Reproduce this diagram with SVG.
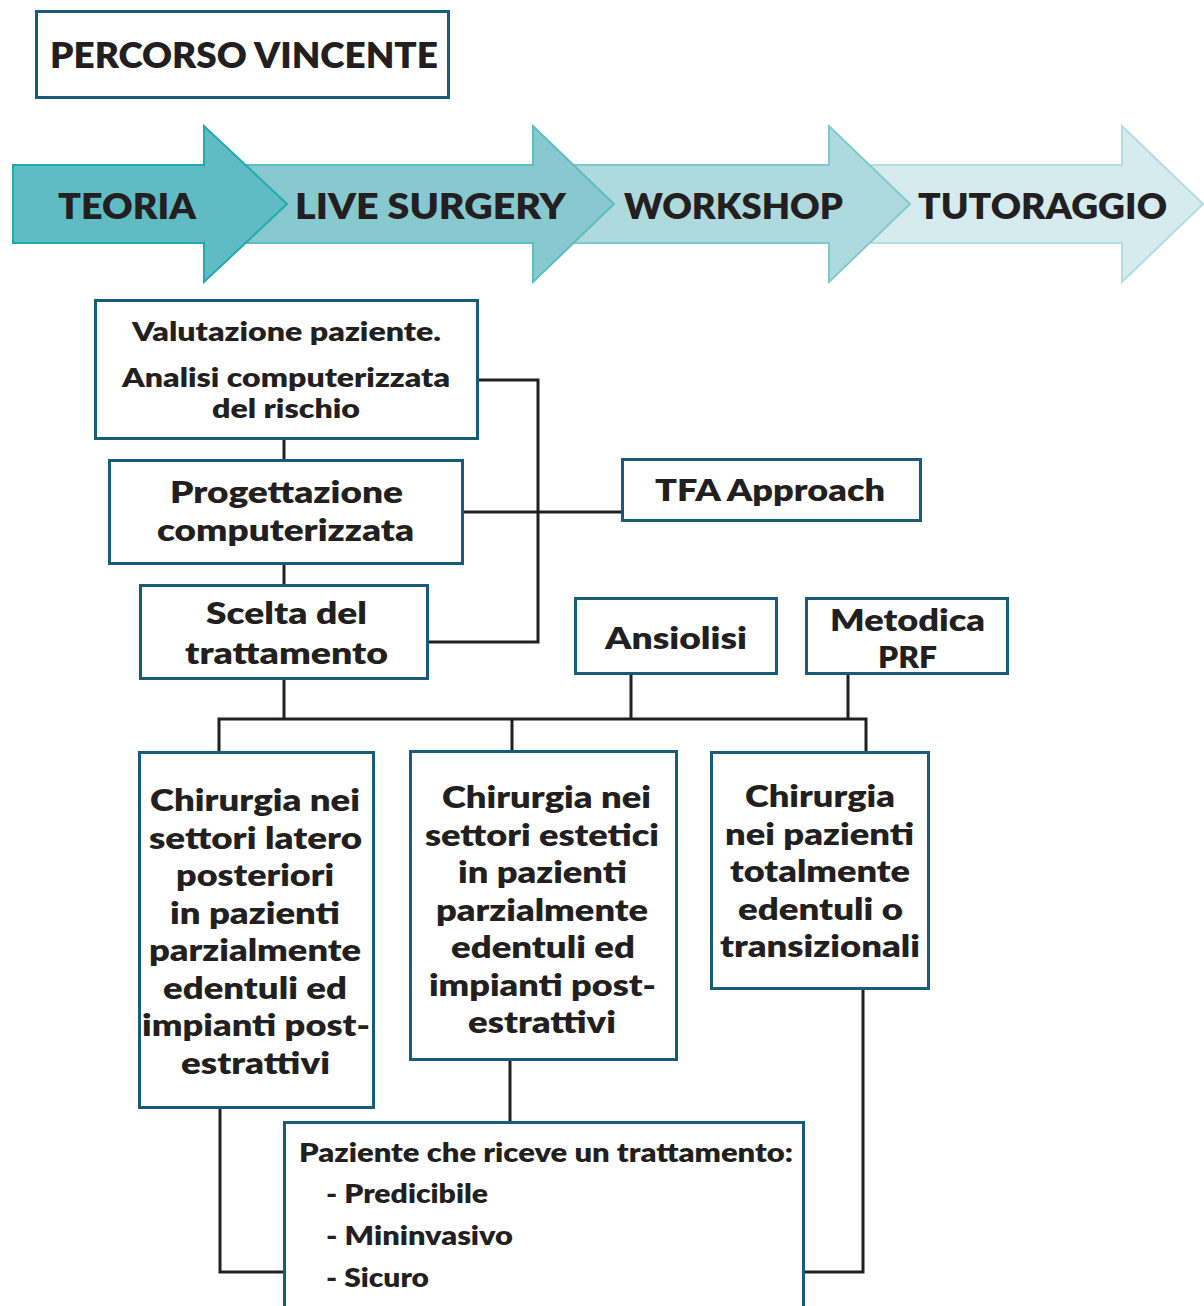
<svg xmlns="http://www.w3.org/2000/svg" width="1204" height="1306" viewBox="0 0 1204 1306">
<style>
.bx{fill:#fff;stroke:#185c78;stroke-width:3}
.t{font-family:Lato,"Open Sans","DejaVu Sans",sans-serif;font-weight:800;fill:#231f20}
.c{fill:none;stroke:#231f20;stroke-width:3}
</style>
<rect width="1204" height="1306" fill="#fff"/>
<g id="title">
<rect class="bx" x="36.500" y="11.500" width="412" height="86"/>
<text class="t" x="50" y="68" font-size="35" textLength="388" lengthAdjust="spacingAndGlyphs">PERCORSO VINCENTE</text>
</g>
<g id="arrows">
<g id="arrow-tutoraggio">
<path d="M870 165 L1122 165 L1122 126 L1203 204 L1122 282 L1122 243 L870 243 Z" fill="#d5ebee" stroke="#b0dde1" stroke-width="2"/>
<text class="t" x="918" y="219" font-size="36" textLength="249" lengthAdjust="spacingAndGlyphs">TUTORAGGIO</text>
</g>
<g id="arrow-workshop">
<path d="M570 165 L829 165 L829 126 L910 204 L829 282 L829 243 L570 243 Z" fill="#afdadd" stroke="#80c9ce" stroke-width="2"/>
<text class="t" x="624" y="219" font-size="36" textLength="219" lengthAdjust="spacingAndGlyphs">WORKSHOP</text>
</g>
<g id="arrow-live">
<path d="M245 165 L533 165 L533 126 L614 204 L533 282 L533 243 L245 243 Z" fill="#87c9ce" stroke="#5cbdc3" stroke-width="2"/>
<text class="t" x="295" y="219" font-size="36" textLength="271" lengthAdjust="spacingAndGlyphs">LIVE SURGERY</text>
</g>
<g id="arrow-teoria">
<path d="M13 165 L204 165 L204 126 L287 204 L204 282 L204 243 L13 243 Z" fill="#5ebcc2" stroke="#22aab1" stroke-width="2"/>
<text class="t" x="58" y="219" font-size="36" textLength="138" lengthAdjust="spacingAndGlyphs">TEORIA</text>
</g>
</g>
<g id="connectors">
<path class="c" d="M284 438 V460 M284 564 V585"/>
<path class="c" d="M478 380 H538 V642 H428"/>
<path class="c" d="M463 512 H622"/>
<path class="c" d="M284 679 V719 M219 752 V719 H866 V752 M512 719 V751 M631 674 V719 M848 674 V719"/>
<path class="c" d="M220 1108 V1272 H284 M510 1060 V1122 M863 989 V1272 H804"/>
</g>
<g id="valutazione">
<rect class="bx" x="95.500" y="300.500" width="382" height="138"/>
<text class="t" x="132" y="341" font-size="25.500" textLength="309" lengthAdjust="spacingAndGlyphs">Valutazione paziente.</text>
<text class="t" x="122" y="387" font-size="25.500" textLength="328" lengthAdjust="spacingAndGlyphs">Analisi computerizzata</text>
<text class="t" x="212" y="418" font-size="25.500" textLength="148" lengthAdjust="spacingAndGlyphs">del rischio</text>
</g>
<g id="progettazione">
<rect class="bx" x="109.500" y="460.500" width="353" height="103"/>
<text class="t" x="170" y="503" font-size="31" textLength="233" lengthAdjust="spacingAndGlyphs">Progettazione</text>
<text class="t" x="157" y="541" font-size="31" textLength="257" lengthAdjust="spacingAndGlyphs">computerizzata</text>
</g>
<g id="scelta">
<rect class="bx" x="140.500" y="585.500" width="287" height="93"/>
<text class="t" x="206" y="624" font-size="31" textLength="161" lengthAdjust="spacingAndGlyphs">Scelta del</text>
<text class="t" x="185" y="664" font-size="31" textLength="203" lengthAdjust="spacingAndGlyphs">trattamento</text>
</g>
<g id="tfa">
<rect class="bx" x="622.500" y="459.500" width="298" height="61"/>
<text class="t" x="655" y="501" font-size="31" textLength="230" lengthAdjust="spacingAndGlyphs">TFA Approach</text>
</g>
<g id="ansiolisi">
<rect class="bx" x="575.500" y="598.500" width="201" height="75"/>
<text class="t" x="605" y="649" font-size="31" textLength="142" lengthAdjust="spacingAndGlyphs">Ansiolisi</text>
</g>
<g id="metodica">
<rect class="bx" x="806.500" y="598.500" width="201" height="75"/>
<text class="t" x="830" y="631" font-size="30.500" textLength="155" lengthAdjust="spacingAndGlyphs">Metodica</text>
<text class="t" x="878" y="668" font-size="30.500" textLength="59" lengthAdjust="spacingAndGlyphs">PRF</text>
</g>
<g id="chirurgia-laterali">
<rect class="bx" x="139.500" y="752.500" width="234" height="355"/>
<text class="t" x="150" y="811" font-size="30.500" textLength="210" lengthAdjust="spacingAndGlyphs">Chirurgia nei</text>
<text class="t" x="149" y="848.500" font-size="30.500" textLength="213" lengthAdjust="spacingAndGlyphs">settori latero</text>
<text class="t" x="176" y="886" font-size="30.500" textLength="158" lengthAdjust="spacingAndGlyphs">posteriori</text>
<text class="t" x="170" y="923.500" font-size="30.500" textLength="170" lengthAdjust="spacingAndGlyphs">in pazienti</text>
<text class="t" x="149" y="961" font-size="30.500" textLength="212" lengthAdjust="spacingAndGlyphs">parzialmente</text>
<text class="t" x="163" y="998.500" font-size="30.500" textLength="184" lengthAdjust="spacingAndGlyphs">edentuli ed</text>
<text class="t" x="142" y="1036" font-size="30.500" textLength="228" lengthAdjust="spacingAndGlyphs">impianti post-</text>
<text class="t" x="181" y="1073.500" font-size="30.500" textLength="149" lengthAdjust="spacingAndGlyphs">estrattivi</text>
</g>
<g id="chirurgia-estetici">
<rect class="bx" x="410.500" y="751.500" width="266" height="308"/>
<text class="t" x="442" y="808" font-size="30.500" textLength="209" lengthAdjust="spacingAndGlyphs">Chirurgia nei</text>
<text class="t" x="425" y="845.500" font-size="30.500" textLength="234" lengthAdjust="spacingAndGlyphs">settori estetici</text>
<text class="t" x="458" y="883" font-size="30.500" textLength="169" lengthAdjust="spacingAndGlyphs">in pazienti</text>
<text class="t" x="436" y="920.500" font-size="30.500" textLength="212" lengthAdjust="spacingAndGlyphs">parzialmente</text>
<text class="t" x="451" y="958" font-size="30.500" textLength="184" lengthAdjust="spacingAndGlyphs">edentuli ed</text>
<text class="t" x="429" y="995.500" font-size="30.500" textLength="227" lengthAdjust="spacingAndGlyphs">impianti post-</text>
<text class="t" x="468" y="1033" font-size="30.500" textLength="148" lengthAdjust="spacingAndGlyphs">estrattivi</text>
</g>
<g id="chirurgia-edentuli">
<rect class="bx" x="711.500" y="752.500" width="217" height="236"/>
<text class="t" x="745" y="807" font-size="30.500" textLength="150" lengthAdjust="spacingAndGlyphs">Chirurgia</text>
<text class="t" x="725" y="844.500" font-size="30.500" textLength="189" lengthAdjust="spacingAndGlyphs">nei pazienti</text>
<text class="t" x="730" y="882" font-size="30.500" textLength="180" lengthAdjust="spacingAndGlyphs">totalmente</text>
<text class="t" x="738" y="919.500" font-size="30.500" textLength="165" lengthAdjust="spacingAndGlyphs">edentuli o</text>
<text class="t" x="720" y="957" font-size="30.500" textLength="200" lengthAdjust="spacingAndGlyphs">transizionali</text>
</g>
<g id="paziente">
<rect class="bx" x="284.500" y="1122.500" width="519" height="190"/>
<text class="t" x="299" y="1162" font-size="27" textLength="494" lengthAdjust="spacingAndGlyphs">Paziente che riceve un trattamento:</text>
<text class="t" x="326" y="1203" font-size="27" textLength="162" lengthAdjust="spacingAndGlyphs">- Predicibile</text>
<text class="t" x="326" y="1245" font-size="27" textLength="187" lengthAdjust="spacingAndGlyphs">- Mininvasivo</text>
<text class="t" x="326" y="1287" font-size="27" textLength="103" lengthAdjust="spacingAndGlyphs">- Sicuro</text>
</g>
</svg>
